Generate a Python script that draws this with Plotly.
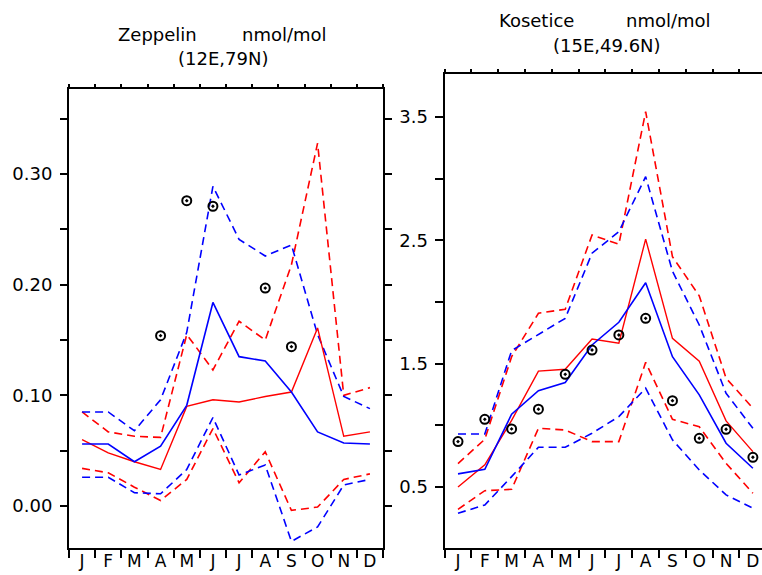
import plotly.graph_objects as go

months = ["J", "F", "M", "A", "M", "J", "J", "A", "S", "O", "N", "D"]
month_idx = list(range(1, 13))

# ---- Zeppelin (12E,79N) ----
zep_red_mid = [0.060, 0.048, 0.040, 0.033, 0.090, 0.096, 0.094, 0.099, 0.103, 0.161, 0.063, 0.067]
zep_red_hi = [0.085, 0.067, 0.063, 0.062, 0.155, 0.123, 0.167, 0.150, 0.218, 0.328, 0.100, 0.107]
zep_red_lo = [0.034, 0.030, 0.017, 0.005, 0.024, 0.070, 0.021, 0.049, -0.004, -0.001, 0.024, 0.029]
zep_blue_mid = [0.056, 0.056, 0.040, 0.054, 0.091, 0.184, 0.135, 0.131, 0.103, 0.067, 0.057, 0.056]
zep_blue_hi = [0.085, 0.085, 0.068, 0.096, 0.157, 0.289, 0.241, 0.226, 0.236, 0.155, 0.099, 0.088]
zep_blue_lo = [0.026, 0.026, 0.012, 0.011, 0.033, 0.080, 0.028, 0.037, -0.032, -0.019, 0.019, 0.024]
zep_obs = [None, None, None, 0.154, 0.276, 0.271, None, 0.197, 0.144, None, None, None]

# ---- Kosetice (15E,49.6N) ----
kos_red_mid = [0.50, 0.68, 1.04, 1.44, 1.455, 1.70, 1.666, 2.51, 1.706, 1.52, 1.036, 0.787]
kos_red_hi = [0.69, 0.887, 1.557, 1.909, 1.942, 2.544, 2.469, 3.544, 2.368, 2.05, 1.382, 1.139]
kos_red_lo = [0.319, 0.470, 0.481, 0.976, 0.962, 0.868, 0.868, 1.511, 1.049, 0.989, 0.692, 0.449]
kos_blue_mid = [0.606, 0.644, 1.090, 1.281, 1.347, 1.652, 1.836, 2.157, 1.557, 1.247, 0.855, 0.652]
kos_blue_hi = [0.930, 0.930, 1.606, 1.739, 1.868, 2.396, 2.571, 3.017, 2.25, 1.814, 1.260, 0.976]
kos_blue_lo = [0.287, 0.354, 0.584, 0.822, 0.822, 0.936, 1.071, 1.301, 0.882, 0.638, 0.436, 0.328]
kos_obs = [0.868, 1.049, 0.971, 1.131, 1.414, 1.611, 1.733, 1.868, 1.200, 0.895, 0.968, 0.741]

left_ytick_vals = [-0.05, 0.0, 0.05, 0.10, 0.15, 0.20, 0.25, 0.30, 0.35]
left_ytick_text = ["", "0.00", "", "0.10", "", "0.20", "", "0.30", ""]
right_ytick_vals = [0.5, 1.0, 1.5, 2.0, 2.5, 3.0, 3.5]
right_ytick_text = ["0.5", "", "1.5", "", "2.5", "", "3.5"]
boundaries = [m + 0.5 for m in range(0, 13)]

RED = "#ff0000"
BLUE = "#0000ff"
DASH = "8px,5px"
FONT = "DejaVu Sans"

fig = go.Figure()


def add_panel(xa, ya, red_mid, red_hi, red_lo, blue_mid, blue_hi, blue_lo, obs):
    for vals, col, dash, w in [
        (red_hi, RED, DASH, 1.6), (red_lo, RED, DASH, 1.6),
        (blue_hi, BLUE, DASH, 1.6), (blue_lo, BLUE, DASH, 1.6),
        (red_mid, RED, "solid", 1.4), (blue_mid, BLUE, "solid", 1.6),
    ]:
        fig.add_trace(go.Scatter(x=month_idx, y=vals, mode="lines", xaxis=xa, yaxis=ya,
                                 line=dict(color=col, dash=dash, width=w), showlegend=False,
                                 hoverinfo="skip"))
    fig.add_trace(go.Scatter(x=month_idx, y=obs, mode="markers", xaxis=xa, yaxis=ya,
                             marker=dict(symbol="circle-open-dot", size=9, color="black",
                                         line=dict(width=2, color="black")),
                             showlegend=False))


add_panel("x", "y", zep_red_mid, zep_red_hi, zep_red_lo, zep_blue_mid, zep_blue_hi, zep_blue_lo, zep_obs)
add_panel("x2", "y2", kos_red_mid, kos_red_hi, kos_red_lo, kos_blue_mid, kos_blue_hi, kos_blue_lo, kos_obs)

# empty traces so the overlay axes (month labels, top frame) get drawn
for xa, ya in [("x3", "y"), ("x5", "y"), ("x4", "y2"), ("x6", "y2")]:
    fig.add_trace(go.Scatter(x=[None], y=[None], mode="lines", xaxis=xa, yaxis=ya,
                             showlegend=False, hoverinfo="skip"))

W, H = 762, 575
y_dom = [(H - 548) / H, (H - 89) / H]
y2_dom = [(H - 548) / H, (H - 74) / H]
x_dom = [69 / W, 383 / W]
x2_dom = [444.6 / W, 1.0]

common_line = dict(showline=True, linecolor="black", linewidth=2, showgrid=False, zeroline=False,
                   tickcolor="black", tickwidth=2, ticks="outside", automargin=False)
label_axis = dict(ticks="", showline=False, showgrid=False, zeroline=False, automargin=False,
                  ticklabelstandoff=1, tickfont=dict(size=17, family=FONT))

fig.update_layout(
    width=W, height=H,
    margin=dict(l=0, r=0, t=0, b=0, pad=0, autoexpand=False),
    paper_bgcolor="white", plot_bgcolor="white",
    font=dict(family=FONT, size=18, color="black"),
    # left panel
    xaxis=dict(domain=x_dom, range=[0.5, 12.5], anchor="y", tickmode="array", tickvals=boundaries,
               showticklabels=False, ticklen=8, **common_line),
    xaxis3=dict(overlaying="x", anchor="y", range=[0.5, 12.5], tickmode="array", tickvals=month_idx,
                ticktext=months, **label_axis),
    xaxis5=dict(overlaying="x", anchor="y", side="top", range=[0.5, 12.5], tickmode="array",
                tickvals=boundaries, showticklabels=False, ticklen=3, **common_line),
    yaxis=dict(domain=y_dom, range=[-0.038, 0.377], anchor="x", tickmode="array",
               tickvals=left_ytick_vals, ticktext=left_ytick_text, ticklen=7, mirror="ticks",
               ticklabelstandoff=4, tickfont=dict(size=18, family=FONT), **common_line),
    # right panel
    xaxis2=dict(domain=x2_dom, range=[0.5, 12.34], anchor="y2", tickmode="array", tickvals=boundaries,
                showticklabels=False, ticklen=8, **common_line),
    xaxis4=dict(overlaying="x2", anchor="y2", range=[0.5, 12.34], tickmode="array", tickvals=month_idx,
                ticktext=months, **label_axis),
    xaxis6=dict(overlaying="x2", anchor="y2", side="top", range=[0.5, 12.34], tickmode="array",
                tickvals=boundaries, showticklabels=False, ticklen=3, **common_line),
    yaxis2=dict(domain=y2_dom, range=[0.005, 3.85], anchor="x2", tickmode="array",
                tickvals=right_ytick_vals, ticktext=right_ytick_text, ticklen=8,
                ticklabelstandoff=3, tickfont=dict(size=18, family=FONT), **common_line),
)

titles = [
    ("Zeppelin", 157, 35), ("nmol/mol", 284, 35), ("(12E,79N)", 223, 59),
    ("Kosetice", 536, 21), ("nmol/mol", 668, 21), ("(15E,49.6N)", 607, 46),
]
for txt, px, py in titles:
    fig.add_annotation(text=txt, x=px / W, y=(H - py) / H, xref="paper", yref="paper",
                       showarrow=False, xanchor="center", yanchor="middle",
                       font=dict(family=FONT, size=18, color="black"))

fig.write_html("out.html")
